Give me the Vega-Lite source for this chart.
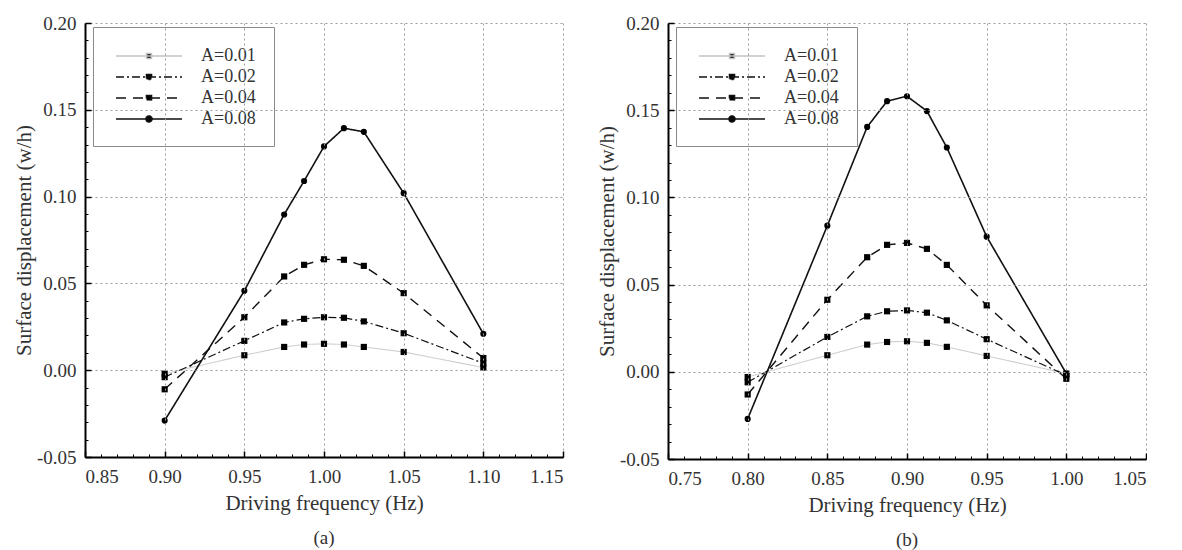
{
  "$schema": "https://vega.github.io/schema/vega-lite/v6.json",
  "background": "white",
  "padding": {"left": 13, "top": 14, "right": 0, "bottom": 0},
  "spacing": 32,
  "resolve": {"legend": {"color": "independent", "strokeDash": "independent"}},
  "datasets": {
    "a": [
      {"f": 0.90, "v": -0.002, "A": "A=0.01"}, {"f": 0.95, "v": 0.0086, "A": "A=0.01"}, {"f": 0.975, "v": 0.0134, "A": "A=0.01"}, {"f": 0.9875, "v": 0.0148, "A": "A=0.01"}, {"f": 1.0, "v": 0.0152, "A": "A=0.01"}, {"f": 1.0125, "v": 0.0148, "A": "A=0.01"}, {"f": 1.025, "v": 0.0134, "A": "A=0.01"}, {"f": 1.05, "v": 0.0105, "A": "A=0.01"}, {"f": 1.10, "v": 0.0015, "A": "A=0.01"},
      {"f": 0.90, "v": -0.004, "A": "A=0.02"}, {"f": 0.95, "v": 0.0169, "A": "A=0.02"}, {"f": 0.975, "v": 0.0275, "A": "A=0.02"}, {"f": 0.9875, "v": 0.0296, "A": "A=0.02"}, {"f": 1.0, "v": 0.0305, "A": "A=0.02"}, {"f": 1.0125, "v": 0.0302, "A": "A=0.02"}, {"f": 1.025, "v": 0.0281, "A": "A=0.02"}, {"f": 1.05, "v": 0.0213, "A": "A=0.02"}, {"f": 1.10, "v": 0.004, "A": "A=0.02"},
      {"f": 0.90, "v": -0.011, "A": "A=0.04"}, {"f": 0.95, "v": 0.0305, "A": "A=0.04"}, {"f": 0.975, "v": 0.054, "A": "A=0.04"}, {"f": 0.9875, "v": 0.0607, "A": "A=0.04"}, {"f": 1.0, "v": 0.0639, "A": "A=0.04"}, {"f": 1.0125, "v": 0.0636, "A": "A=0.04"}, {"f": 1.025, "v": 0.0601, "A": "A=0.04"}, {"f": 1.05, "v": 0.0444, "A": "A=0.04"}, {"f": 1.10, "v": 0.007, "A": "A=0.04"},
      {"f": 0.90, "v": -0.029, "A": "A=0.08"}, {"f": 0.95, "v": 0.0457, "A": "A=0.08"}, {"f": 0.975, "v": 0.0897, "A": "A=0.08"}, {"f": 0.9875, "v": 0.109, "A": "A=0.08"}, {"f": 1.0, "v": 0.1289, "A": "A=0.08"}, {"f": 1.0125, "v": 0.1394, "A": "A=0.08"}, {"f": 1.025, "v": 0.1373, "A": "A=0.08"}, {"f": 1.05, "v": 0.102, "A": "A=0.08"}, {"f": 1.10, "v": 0.021, "A": "A=0.08"}
    ],
    "b": [
      {"f": 0.80, "v": -0.003, "A": "A=0.01"}, {"f": 0.85, "v": 0.0095, "A": "A=0.01"}, {"f": 0.875, "v": 0.0156, "A": "A=0.01"}, {"f": 0.8875, "v": 0.0171, "A": "A=0.01"}, {"f": 0.90, "v": 0.0175, "A": "A=0.01"}, {"f": 0.9125, "v": 0.0166, "A": "A=0.01"}, {"f": 0.925, "v": 0.0143, "A": "A=0.01"}, {"f": 0.95, "v": 0.0091, "A": "A=0.01"}, {"f": 1.00, "v": -0.001, "A": "A=0.01"},
      {"f": 0.80, "v": -0.006, "A": "A=0.02"}, {"f": 0.85, "v": 0.020, "A": "A=0.02"}, {"f": 0.875, "v": 0.0318, "A": "A=0.02"}, {"f": 0.8875, "v": 0.0347, "A": "A=0.02"}, {"f": 0.90, "v": 0.0352, "A": "A=0.02"}, {"f": 0.9125, "v": 0.0339, "A": "A=0.02"}, {"f": 0.925, "v": 0.0295, "A": "A=0.02"}, {"f": 0.95, "v": 0.0187, "A": "A=0.02"}, {"f": 1.00, "v": -0.002, "A": "A=0.02"},
      {"f": 0.80, "v": -0.013, "A": "A=0.04"}, {"f": 0.85, "v": 0.0413, "A": "A=0.04"}, {"f": 0.875, "v": 0.0657, "A": "A=0.04"}, {"f": 0.8875, "v": 0.0728, "A": "A=0.04"}, {"f": 0.90, "v": 0.0739, "A": "A=0.04"}, {"f": 0.9125, "v": 0.0705, "A": "A=0.04"}, {"f": 0.925, "v": 0.0613, "A": "A=0.04"}, {"f": 0.95, "v": 0.0381, "A": "A=0.04"}, {"f": 1.00, "v": -0.004, "A": "A=0.04"},
      {"f": 0.80, "v": -0.027, "A": "A=0.08"}, {"f": 0.85, "v": 0.0838, "A": "A=0.08"}, {"f": 0.875, "v": 0.1404, "A": "A=0.08"}, {"f": 0.8875, "v": 0.1552, "A": "A=0.08"}, {"f": 0.90, "v": 0.158, "A": "A=0.08"}, {"f": 0.9125, "v": 0.1495, "A": "A=0.08"}, {"f": 0.925, "v": 0.1286, "A": "A=0.08"}, {"f": 0.95, "v": 0.0775, "A": "A=0.08"}, {"f": 1.00, "v": -0.001, "A": "A=0.08"}
    ]
  },
  "config": {
    "view": {"stroke": null},
    "font": "Liberation Serif",
    "axis": {
      "labelFont": "Liberation Serif", "labelFontSize": 19, "labelColor": "#333",
      "titleFont": "Liberation Serif", "titleFontSize": 21, "titleFontWeight": "normal", "titleColor": "#333",
      "domainColor": "black", "domainWidth": 2,
      "tickColor": "black", "tickWidth": 1.5,
      "gridColor": "#9a9a9a", "gridDash": [2, 3], "gridWidth": 1
    },
    "legend": {"labelFont": "Liberation Serif", "labelFontSize": 18, "labelColor": "#333"},
    "title": {"font": "Liberation Serif", "fontSize": 19, "fontWeight": "normal", "color": "#333"}
  },
  "hconcat": [
    {
      "width": 478, "height": 434,
      "data": {"name": "a"},
      "title": {"text": "(a)", "orient": "bottom", "offset": 16},
      "resolve": {"axis": {"x": "independent", "y": "independent"}},
      "layer": [
        {
          "mark": {"type": "point", "opacity": 0},
          "encoding": {
            "x": {"field": "f", "type": "quantitative", "scale": {"domain": [0.85, 1.15], "nice": false, "zero": false}, "axis": {"orient": "bottom", "title": null, "labels": false, "grid": false, "domain": false, "tickSize": -3, "tickWidth": 1, "values": [0.85,0.86,0.87,0.88,0.89,0.90,0.91,0.92,0.93,0.94,0.95,0.96,0.97,0.98,0.99,1.00,1.01,1.02,1.03,1.04,1.05,1.06,1.07,1.08,1.09,1.10,1.11,1.12,1.13,1.14,1.15]}},
            "y": {"field": "v", "type": "quantitative", "scale": {"domain": [-0.05, 0.20], "nice": false, "zero": false}, "axis": {"orient": "left", "title": null, "labels": false, "grid": false, "domain": false, "tickSize": -3, "tickWidth": 1, "values": [-0.05,-0.04,-0.03,-0.02,-0.01,0,0.01,0.02,0.03,0.04,0.05,0.06,0.07,0.08,0.09,0.10,0.11,0.12,0.13,0.14,0.15,0.16,0.17,0.18,0.19,0.20]}}
          }
        },
        {
          "mark": {"type": "line"},
          "encoding": {
            "x": {"field": "f", "type": "quantitative",
              "axis": {"title": "Driving frequency (Hz)", "values": [0.85, 0.90, 0.95, 1.00, 1.05, 1.10, 1.15], "format": ".2f", "tickSize": -6, "labelPadding": 16, "titlePadding": 6, "grid": true, "orient": "bottom", "domain": true, "domainColor": "black", "domainWidth": 2, "zindex": 1}},
            "y": {"field": "v", "type": "quantitative",
              "axis": {"title": "Surface displacement (w/h)", "values": [-0.05, 0, 0.05, 0.10, 0.15, 0.20], "labelExpr": "datum.value < 0 ? '-' + format(-datum.value, '.2f') : format(datum.value, '.2f')", "tickSize": -6, "labelPadding": 15, "titlePadding": 2, "grid": true, "orient": "left", "domain": true, "domainColor": "black", "domainWidth": 2, "zindex": 1}},
            "color": {"field": "A", "type": "nominal", "scale": {"domain": ["A=0.01", "A=0.02", "A=0.04", "A=0.08"], "range": ["#c4c4c4", "#111111", "#111111", "#111111"]},
              "legend": {"orient": "none", "legendX": 8, "legendY": 4, "title": null, "fillColor": "white", "strokeColor": "#8a8a8a", "padding": 18, "symbolOffset": 27, "labelOffset": 41, "rowPadding": 1, "symbolSize": 400, "symbolStrokeWidth": 1.6,
                "encode": {"symbols": {"update": {"fill": {"value": "black"}, "shape": {"signal": "datum.value === 'A=0.08' ? 'M-3.3,0H3.3M-0.3,0A0.3,0.3,0,1,0,0.3,0A0.3,0.3,0,1,0,-0.3,0Z' : 'M-3.3,0H3.3M-0.25,-0.25H0.25V0.25H-0.25Z'"}}}}}},
            "strokeDash": {"field": "A", "type": "nominal", "scale": {"domain": ["A=0.01", "A=0.02", "A=0.04", "A=0.08"], "range": [[1, 0], [8, 3, 2, 3], [10, 7], [1, 0]]},
              "legend": {"orient": "none", "legendX": 8, "legendY": 4, "title": null, "fillColor": "white", "strokeColor": "#8a8a8a", "padding": 18, "symbolOffset": 27, "labelOffset": 41, "rowPadding": 1, "symbolSize": 400, "symbolStrokeWidth": 1.6,
                "encode": {"symbols": {"update": {"fill": {"value": "black"}, "shape": {"signal": "datum.value === 'A=0.08' ? 'M-3.3,0H3.3M-0.3,0A0.3,0.3,0,1,0,0.3,0A0.3,0.3,0,1,0,-0.3,0Z' : 'M-3.3,0H3.3M-0.25,-0.25H0.25V0.25H-0.25Z'"}}}}}},
            "strokeWidth": {"field": "A", "type": "nominal", "scale": {"domain": ["A=0.01", "A=0.02", "A=0.04", "A=0.08"], "range": [1, 1.6, 1.6, 2]}, "legend": null}
          }
        },
        {
          "transform": [{"filter": "datum.A !== 'A=0.08'"}],
          "mark": {"type": "square", "filled": true, "color": "black", "opacity": 1, "size": 38},
          "encoding": {
            "x": {"field": "f", "type": "quantitative", "axis": null},
            "y": {"field": "v", "type": "quantitative", "axis": null}
          }
        },
        {
          "transform": [{"filter": "datum.A === 'A=0.08'"}],
          "mark": {"type": "circle", "filled": true, "color": "black", "opacity": 1, "size": 38},
          "encoding": {
            "x": {"field": "f", "type": "quantitative", "axis": null},
            "y": {"field": "v", "type": "quantitative", "axis": null}
          }
        }
      ]
    },
    {
      "width": 478, "height": 436,
      "data": {"name": "b"},
      "title": {"text": "(b)", "orient": "bottom", "offset": 16},
      "resolve": {"axis": {"x": "independent", "y": "independent"}},
      "layer": [
        {
          "mark": {"type": "point", "opacity": 0},
          "encoding": {
            "x": {"field": "f", "type": "quantitative", "scale": {"domain": [0.75, 1.05], "nice": false, "zero": false}, "axis": {"orient": "bottom", "title": null, "labels": false, "grid": false, "domain": false, "tickSize": -3, "tickWidth": 1, "values": [0.75,0.76,0.77,0.78,0.79,0.80,0.81,0.82,0.83,0.84,0.85,0.86,0.87,0.88,0.89,0.90,0.91,0.92,0.93,0.94,0.95,0.96,0.97,0.98,0.99,1.00,1.01,1.02,1.03,1.04,1.05]}},
            "y": {"field": "v", "type": "quantitative", "scale": {"domain": [-0.05, 0.20], "nice": false, "zero": false}, "axis": {"orient": "left", "title": null, "labels": false, "grid": false, "domain": false, "tickSize": -3, "tickWidth": 1, "values": [-0.05,-0.04,-0.03,-0.02,-0.01,0,0.01,0.02,0.03,0.04,0.05,0.06,0.07,0.08,0.09,0.10,0.11,0.12,0.13,0.14,0.15,0.16,0.17,0.18,0.19,0.20]}}
          }
        },
        {
          "mark": {"type": "line"},
          "encoding": {
            "x": {"field": "f", "type": "quantitative",
              "axis": {"title": "Driving frequency (Hz)", "values": [0.75, 0.80, 0.85, 0.90, 0.95, 1.00, 1.05], "format": ".2f", "tickSize": -6, "labelPadding": 16, "titlePadding": 6, "grid": true, "orient": "bottom", "domain": true, "domainColor": "black", "domainWidth": 2, "zindex": 1}},
            "y": {"field": "v", "type": "quantitative",
              "axis": {"title": "Surface displacement (w/h)", "values": [-0.05, 0, 0.05, 0.10, 0.15, 0.20], "labelExpr": "datum.value < 0 ? '-' + format(-datum.value, '.2f') : format(datum.value, '.2f')", "tickSize": -6, "labelPadding": 15, "titlePadding": 2, "grid": true, "orient": "left", "domain": true, "domainColor": "black", "domainWidth": 2, "zindex": 1}},
            "color": {"field": "A", "type": "nominal", "scale": {"domain": ["A=0.01", "A=0.02", "A=0.04", "A=0.08"], "range": ["#c4c4c4", "#111111", "#111111", "#111111"]},
              "legend": {"orient": "none", "legendX": 8, "legendY": 4, "title": null, "fillColor": "white", "strokeColor": "#8a8a8a", "padding": 18, "symbolOffset": 27, "labelOffset": 41, "rowPadding": 1, "symbolSize": 400, "symbolStrokeWidth": 1.6,
                "encode": {"symbols": {"update": {"fill": {"value": "black"}, "shape": {"signal": "datum.value === 'A=0.08' ? 'M-3.3,0H3.3M-0.3,0A0.3,0.3,0,1,0,0.3,0A0.3,0.3,0,1,0,-0.3,0Z' : 'M-3.3,0H3.3M-0.25,-0.25H0.25V0.25H-0.25Z'"}}}}}},
            "strokeDash": {"field": "A", "type": "nominal", "scale": {"domain": ["A=0.01", "A=0.02", "A=0.04", "A=0.08"], "range": [[1, 0], [8, 3, 2, 3], [10, 7], [1, 0]]},
              "legend": {"orient": "none", "legendX": 8, "legendY": 4, "title": null, "fillColor": "white", "strokeColor": "#8a8a8a", "padding": 18, "symbolOffset": 27, "labelOffset": 41, "rowPadding": 1, "symbolSize": 400, "symbolStrokeWidth": 1.6,
                "encode": {"symbols": {"update": {"fill": {"value": "black"}, "shape": {"signal": "datum.value === 'A=0.08' ? 'M-3.3,0H3.3M-0.3,0A0.3,0.3,0,1,0,0.3,0A0.3,0.3,0,1,0,-0.3,0Z' : 'M-3.3,0H3.3M-0.25,-0.25H0.25V0.25H-0.25Z'"}}}}}},
            "strokeWidth": {"field": "A", "type": "nominal", "scale": {"domain": ["A=0.01", "A=0.02", "A=0.04", "A=0.08"], "range": [1, 1.6, 1.6, 2]}, "legend": null}
          }
        },
        {
          "transform": [{"filter": "datum.A !== 'A=0.08'"}],
          "mark": {"type": "square", "filled": true, "color": "black", "opacity": 1, "size": 38},
          "encoding": {
            "x": {"field": "f", "type": "quantitative", "axis": null},
            "y": {"field": "v", "type": "quantitative", "axis": null}
          }
        },
        {
          "transform": [{"filter": "datum.A === 'A=0.08'"}],
          "mark": {"type": "circle", "filled": true, "color": "black", "opacity": 1, "size": 38},
          "encoding": {
            "x": {"field": "f", "type": "quantitative", "axis": null},
            "y": {"field": "v", "type": "quantitative", "axis": null}
          }
        }
      ]
    }
  ]
}
